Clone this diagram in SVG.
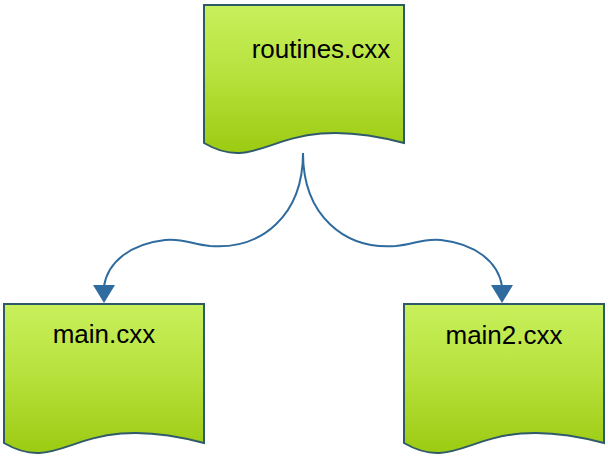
<svg xmlns="http://www.w3.org/2000/svg" width="608" height="458" viewBox="0 0 608 458">
<defs>
<linearGradient id="g" x1="0" y1="0" x2="0" y2="1">
<stop offset="0" stop-color="#c8f05c"/>
<stop offset="0.45" stop-color="#b8e23e"/>
<stop offset="1" stop-color="#9ccb12"/>
</linearGradient>
<marker id="arr" viewBox="0 0 22 18" refX="11" refY="18" markerWidth="22" markerHeight="18" markerUnits="userSpaceOnUse" orient="auto-start-reverse">
<path d="M0,0 L22,0 L11,18 Z" fill="#2f6b9e"/>
</marker>
<style>
.doc{fill:url(#g);stroke:#2f5a6a;stroke-width:2;}
.lbl{font-family:"Liberation Sans",Arial,sans-serif;font-size:26px;fill:#000;}
.con{fill:none;stroke:#2f6b9e;stroke-width:2;}
</style>
</defs>
<g id="connectors">
<path class="con" d="M303,153 C303,215 262,250 210,246 C192,244 182,238 165,240 C130,244 108,262 104,286"/>
<path d="M93,285 L115,285 L104,303 Z" fill="#2f6b9e"/>
<path class="con" d="M303,153 C303,215 344,250 396,246 C414,244 424,238 441,240 C476,244 498,262 502,286"/>
<path d="M491,285 L513,285 L502,303 Z" fill="#2f6b9e"/>
</g>
<g id="routines">
<path class="doc" d="M204,5 L404,5 L404,143 C274,108 264,178 204,143 Z"/>
<text class="lbl" x="321" y="58" text-anchor="middle">routines.cxx</text>
</g>
<g id="main">
<path class="doc" d="M4,304 L204,304 L204,443 C74,408 64,478 4,443 Z"/>
<text class="lbl" x="104" y="343" text-anchor="middle">main.cxx</text>
</g>
<g id="main2">
<path class="doc" d="M404,304 L604,304 L604,443 C474,408 464,478 404,443 Z"/>
<text class="lbl" x="504" y="344" text-anchor="middle">main2.cxx</text>
</g>
</svg>
